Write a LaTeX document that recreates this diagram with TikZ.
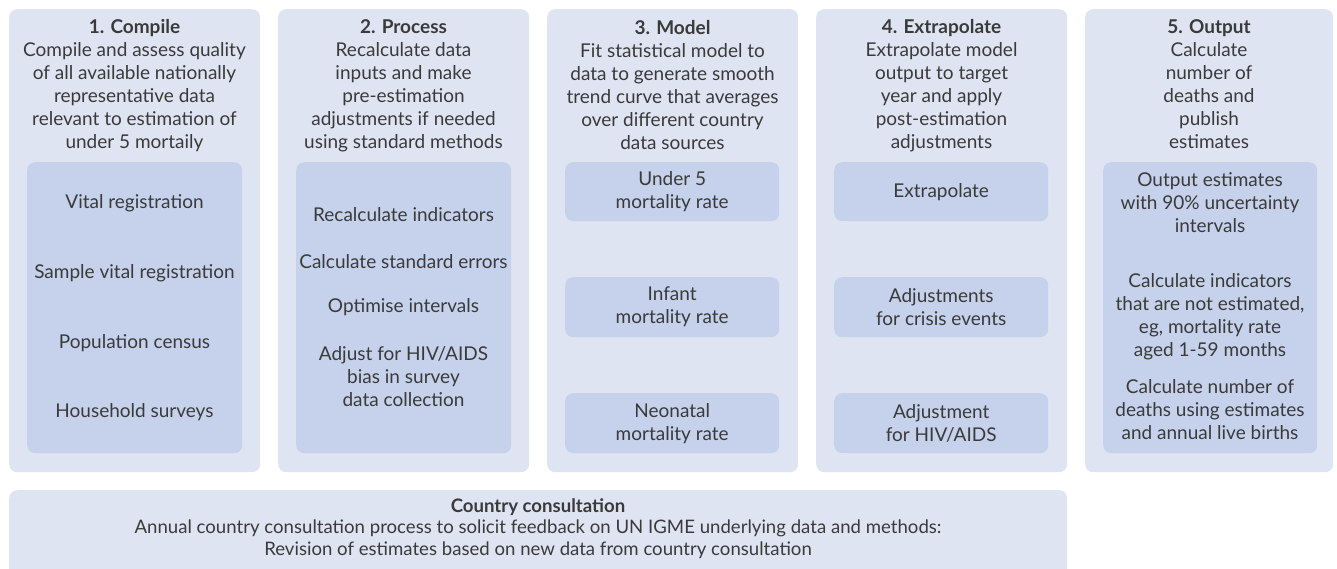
\documentclass[tikz,border=0pt]{standalone}
\usepackage{fontspec}
\setmainfont{Lato}
\definecolor{outerc}{HTML}{DFE4F2}
\definecolor{innerc}{HTML}{C6D2EB}
\definecolor{txtc}{HTML}{3A3A3A}
\tikzset{
  panel/.style={fill=outerc, draw=none, rounded corners=8pt, anchor=north west, inner sep=0},
  subpanel/.style={fill=innerc, draw=none, rounded corners=8pt, anchor=north west, inner sep=0},
  txt/.style={text=txtc, font=\fontsize{19}{23}\selectfont, align=center, inner sep=0},
  foot/.style={text=txtc, font=\fontsize{18.6}{21.5}\selectfont, align=center, inner sep=0},
}
\begin{document}
\begin{tikzpicture}[x=1pt,y=-1pt]
\useasboundingbox (0,0) rectangle (1337,568);

% five stage panels
\node[panel, minimum width=251pt, minimum height=463pt] (p1) at (9,9) {};
\node[panel, minimum width=251pt, minimum height=463pt] (p2) at (278,9) {};
\node[panel, minimum width=251pt, minimum height=463pt] (p3) at (547,9) {};
\node[panel, minimum width=251pt, minimum height=463pt] (p4) at (816,9) {};
\node[panel, minimum width=248pt, minimum height=463pt] (p5) at (1085,9) {};

% country consultation panel
\node[panel, minimum width=1058pt, minimum height=90pt] (cc) at (9,490) {};

% inner panels
\node[subpanel, minimum width=215pt, minimum height=291pt] (s1) at (27,162) {};
\node[subpanel, minimum width=215pt, minimum height=291pt] (s2) at (296,162) {};
\node[subpanel, minimum width=214pt, minimum height=59pt] (s3a) at (565,162) {};
\node[subpanel, minimum width=214pt, minimum height=60pt] (s3b) at (565,277) {};
\node[subpanel, minimum width=214pt, minimum height=60pt] (s3c) at (565,393) {};
\node[subpanel, minimum width=214pt, minimum height=59pt] (s4a) at (834,162) {};
\node[subpanel, minimum width=214pt, minimum height=60pt] (s4b) at (834,277) {};
\node[subpanel, minimum width=214pt, minimum height=60pt] (s4c) at (834,393) {};
\node[subpanel, minimum width=214pt, minimum height=291pt] (s5) at (1103,162) {};

% headings
\node[txt] (h1) at (134.5,85.5) {\textbf{1. Compile}\\Compile and assess quality\\of all available nationally\\representative data\\relevant to estimation of\\under 5 mortaily};
\node[txt] (h2) at (403.5,85.5) {\textbf{2. Process}\\Recalculate data\\inputs and make\\pre-estimation\\adjustments if needed\\using standard methods};
\node[txt] (h3) at (672.5,85.5) {\textbf{3. Model}\\Fit statistical model to\\data to generate smooth\\trend curve that averages\\over different country\\data sources};
\node[txt] (h4) at (941.5,85.5) {\textbf{4. Extrapolate}\\Extrapolate model\\output to target\\year and apply\\post-estimation\\adjustments};
\node[txt] (h5) at (1209,84) {\textbf{5. Output}\\Calculate\\number of\\deaths and\\publish\\estimates};

% stage 1 items
\node[txt] (a1) at (134.5,203) {Vital registration};
\node[txt] (a2) at (134.5,273) {Sample vital registration};
\node[txt] (a3) at (134.5,343) {Population census};
\node[txt] (a4) at (134.5,412) {Household surveys};

% stage 2 items
\node[txt] (b1) at (403.5,215) {Recalculate indicators};
\node[txt] (b2) at (403.5,262) {Calculate standard errors};
\node[txt] (b3) at (403.5,307) {Optimise intervals};
\node[txt] (b4) at (403.5,377) {Adjust for HIV/AIDS\\bias in survey\\data collection};

% stage 3 items
\node[txt] (c1) at (s3a.center) {Under 5\\mortality rate};
\node[txt] (c2) at (s3b.center) {Infant\\mortality rate};
\node[txt] (c3) at (s3c.center) {Neonatal\\mortality rate};

% stage 4 items
\node[txt] (d1) at (s4a.center) {Extrapolate};
\node[txt] (d2) at (s4b.center) {Adjustments\\for crisis events};
\node[txt] (d3) at (s4c.center) {Adjustment\\for HIV/AIDS};

% stage 5 items
\node[txt] (e1) at (1210,203) {Output estimates\\with 90\% uncertainty\\intervals};
\node[txt] (e2) at (1210,317) {Calculate indicators\\that are not estimated,\\eg, mortality rate\\aged 1-59 months};
\node[txt] (e3) at (1210,410) {Calculate number of\\deaths using estimates\\and annual live births};

% consultation text
\node[foot] (f1) at (538,528.5) {\textbf{Country consultation}\\Annual country consultation process to solicit feedback on UN IGME underlying data and methods:\\Revision of estimates based on new data from country consultation};
\end{tikzpicture}
\end{document}
